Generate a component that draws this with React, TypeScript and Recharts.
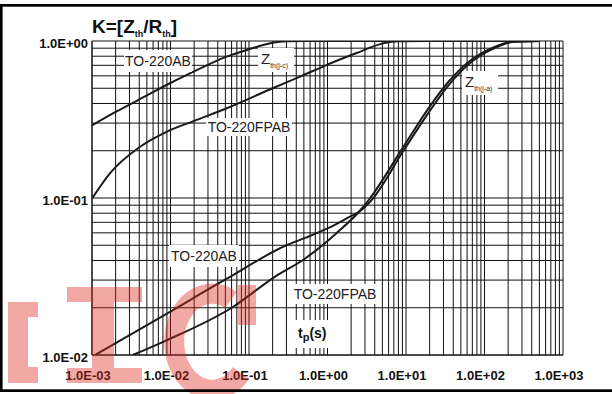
import { LineChart, Line, XAxis, YAxis, CartesianGrid } from "recharts";

// x: pulse duration tp (s), y: K = Zth / Rth
const decades = [0.001, 0.01, 0.1, 1, 10, 100, 1000];
const xTickLabels = ["1.0E-03", "1.0E-02", "1.0E-01", "1.0E+00", "1.0E+01", "1.0E+02", "1.0E+03"];
const yDecades = [0.01, 0.1, 1];
const yTickLabels = ["1.0E-02", "1.0E-01", "1.0E+00"];
const gridSteps = [1, 2, 3, 4, 5, 6, 7, 8, 9];

// Zth(j-c), TO-220AB
const jcAbT = [0.001, 0.002, 0.005, 0.01, 0.02, 0.05, 0.1, 0.2, 0.3, 0.5, 1, 10, 100, 500];
const jcAbK = [0.29, 0.353, 0.45, 0.54, 0.64, 0.79, 0.885, 0.975, 0.995, 1, 1, 1, 1, 1];

// Zth(j-c), TO-220FPAB
const jcFpT = [0.001, 0.0017, 0.0041, 0.0089, 0.02, 0.052, 0.2, 0.447, 0.95, 2.3, 5.1, 8, 20, 500];
const jcFpK = [0.099, 0.144, 0.212, 0.264, 0.31, 0.373, 0.5, 0.593, 0.7, 0.835, 0.966, 0.995, 1, 1];

// Zth(j-a), TO-220AB
const jaAbT = [0.0011, 0.0089, 0.052, 0.3, 0.53, 1, 1.9, 2.5, 3.58, 9.1, 19.8, 35.6, 70.6, 126, 228, 500];
const jaAbK = [0.01, 0.0183, 0.0306, 0.05, 0.0559, 0.064, 0.0757, 0.0814, 0.096, 0.197, 0.355, 0.53, 0.745, 0.888, 0.985, 1];

// Zth(j-a), TO-220FPAB
const jaFpT = [0.0033, 0.0089, 0.063, 0.204, 0.53, 1.28, 2.5, 3.5, 9, 19.5, 35, 70, 126, 228, 500];
const jaFpK = [0.01, 0.0124, 0.0203, 0.031, 0.0415, 0.0593, 0.0814, 0.1, 0.207, 0.375, 0.552, 0.768, 0.905, 0.99, 1];

const rows = (t: number[], k: number[]) => t.map((v, i) => ({ t: v, k: k[i] }));

const xGrid = [...decades.slice(0, -1).flatMap((d) => gridSteps.map((s) => d * s)), 1000];
const yGrid = [...yDecades.slice(0, -1).flatMap((d) => gridSteps.map((s) => d * s)), 1];

const font = "'Liberation Sans', Arial, sans-serif";

const decadeLabel = (v: number, list: number[], labels: string[]) => {
  const i = list.findIndex((d) => Math.abs(Math.log10(d) - Math.log10(v)) < 1e-6);
  return i >= 0 ? labels[i] : null;
};

const XTick = ({ x, y, payload }: any) => {
  const label = decadeLabel(payload.value, decades, xTickLabels);
  if (!label) return null;
  return (
    <text x={x - 4} y={y + 25} textAnchor="middle" fontFamily={font} fontWeight="bold" fontSize={13} fill="#111">
      {label}
    </text>
  );
};

const YTick = ({ x, y, payload }: any) => {
  const label = decadeLabel(payload.value, yDecades, yTickLabels);
  if (!label) return null;
  return (
    <text x={x - 4} y={y + 7} textAnchor="end" fontFamily={font} fontWeight="bold" fontSize={13} fill="#111">
      {label}
    </text>
  );
};

const BoxLabel = ({ x, y, w, h, text }: { x: number; y: number; w: number; h: number; text: string }) => (
  <g>
    <rect x={x} y={y} width={w} height={h} fill="#fff" />
    <text x={x + w / 2} y={y + h / 2 + 5} textAnchor="middle" fontFamily={font} fontSize={14} fill="#222">
      {text}
    </text>
  </g>
);

const ZLabel = ({ x, y, sub }: { x: number; y: number; sub: string }) => (
  <g>
    <rect x={x - 3} y={y - 16} width={36} height={24} fill="#fff" />
    <text x={x} y={y} fontFamily={font} fontSize={15} fill="#222">
      Z
      <tspan dy={4} fontSize={7} fill="#333">
        {sub}
      </tspan>
    </text>
  </g>
);

const lines = [
  { name: "jcAb", t: jcAbT, k: jcAbK },
  { name: "jcFp", t: jcFpT, k: jcFpK },
  { name: "jaAb", t: jaAbT, k: jaAbK },
  { name: "jaFp", t: jaFpT, k: jaFpK },
];

const wm = "rgba(222, 40, 30, 0.4)";

export default function App() {
  return (
    <div style={{ position: "fixed", left: 0, top: 0, width: 612, height: 394, background: "#fff", overflow: "hidden" }}>
      <style>{"html,body{margin:0;overflow:hidden}"}</style>
      <LineChart width={612} height={394} margin={{ top: 41, right: 49, bottom: 0, left: 8 }}>
        <CartesianGrid stroke="#111" strokeWidth={1} />
        <XAxis
          type="number"
          dataKey="t"
          scale="log"
          domain={[0.001, 1000]}
          ticks={xGrid}
          interval={0}
          allowDataOverflow
          height={39}
          tickSize={0}
          tickMargin={0}
          tickLine={false}
          axisLine={{ stroke: "#111" }}
          tick={<XTick />}
        />
        <YAxis
          type="number"
          dataKey="k"
          scale="log"
          domain={[0.01, 1]}
          ticks={yGrid}
          interval={0}
          allowDataOverflow
          width={84}
          tickSize={0}
          tickMargin={0}
          tickLine={false}
          axisLine={{ stroke: "#111" }}
          tick={<YTick />}
        />
        {lines.map((l) => (
          <Line
            key={l.name}
            data={rows(l.t, l.k)}
            dataKey="k"
            type="monotone"
            stroke="#1a1a1a"
            strokeWidth={2}
            dot={false}
            isAnimationActive={false}
          />
        ))}
      </LineChart>
      <svg width={612} height={394} style={{ position: "absolute", left: 0, top: 0, pointerEvents: "none" }}>
        <text x={92} y={33} fontFamily={font} fontWeight="bold" fontSize={19} fill="#111">
          K=[Z<tspan dy={4} fontSize={9}>th</tspan>
          <tspan dy={-4}>/R</tspan>
          <tspan dy={4} fontSize={9}>th</tspan>
          <tspan dy={-4}>]</tspan>
        </text>
        <BoxLabel x={124} y={50} w={68} h={22} text="TO-220AB" />
        <ZLabel x={261} y={64} sub="th(j-c)" />
        <BoxLabel x={206} y={118} w={86} h={18} text="TO-220FPAB" />
        <ZLabel x={465} y={87} sub="th(j-a)" />
        <BoxLabel x={169} y={245} w={70} h={22} text="TO-220AB" />
        <BoxLabel x={294} y={284} w={82} h={20} text="TO-220FPAB" />
        <g>
          <rect x={293} y={320} width={38} height={28} fill="#fff" />
          <text x={298} y={338} fontFamily={font} fontWeight="bold" fontSize={14} fill="#111">
            t<tspan dy={3} fontSize={11}>p</tspan>
            <tspan dy={-3}>(s)</tspan>
          </text>
        </g>
        {/* watermark */}
        <path d="M8 302 H38 V317 H28 V367 H38 V383 H8 Z" fill={wm} />
        <path d="M67 287 H142 V302 H114 V368 H142 V383 H67 V368 H92 V302 H67 Z" fill={wm} />
        <path d="M231 300 A38 48 0 1 0 241 373" fill="none" stroke={wm} strokeWidth={20} />
        <rect x={238} y={285} width={18} height={40} fill={wm} />
        {/* frame */}
        <rect x={0} y={4} width={612} height={2.7} fill="#000" />
        <rect x={0} y={4} width={2.6} height={388} fill="#000" />
        <rect x={0} y={389.3} width={612} height={2.7} fill="#000" />
      </svg>
    </div>
  );
}
